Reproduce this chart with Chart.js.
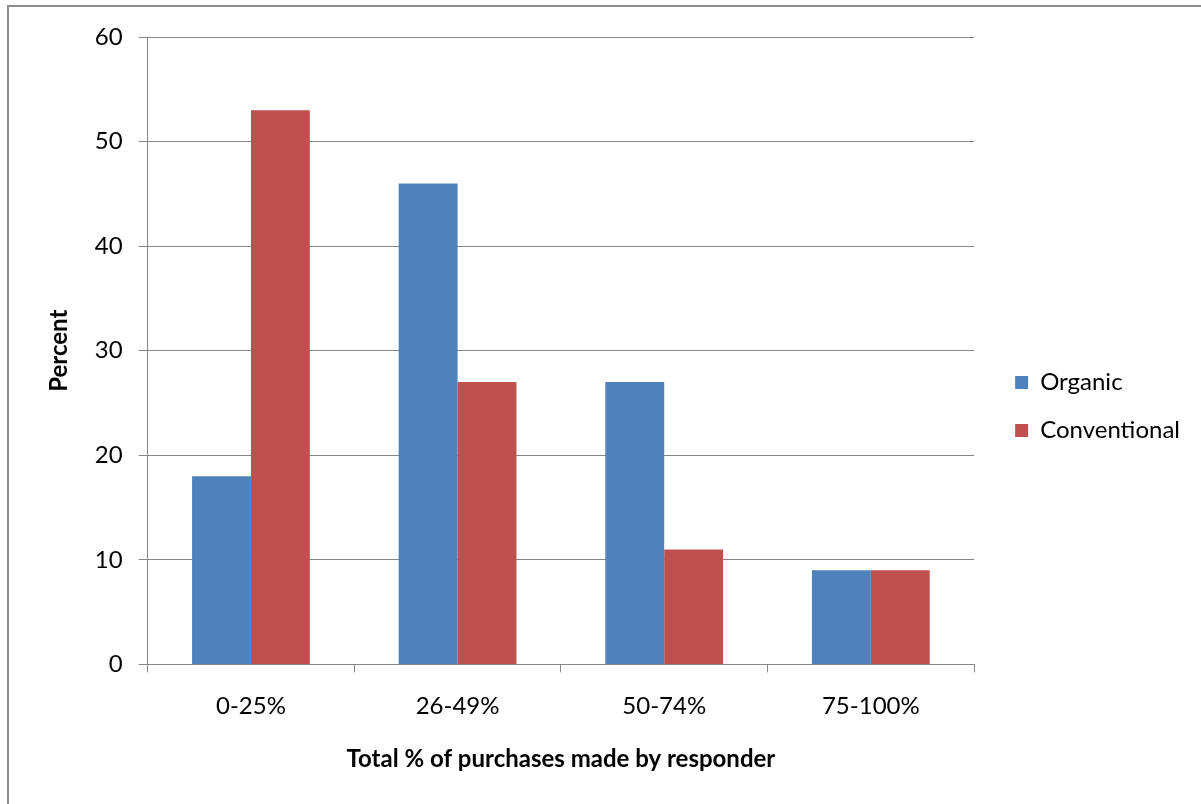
<!DOCTYPE html>
<html lang="en">
<head>
  <meta charset="UTF-8">
  <title>Organic vs Conventional purchases</title>
  <script src="https://cdn.jsdelivr.net/npm/chart.js"></script>
  <style>
    html, body { margin: 0; padding: 0; background: #fff; }
    #wrap { width: 1201px; height: 804px; position: relative; }
  </style>
</head>
<body>
  <div id="wrap"><canvas id="myChart" width="1201" height="804"></canvas></div>

  <script>
    // chart data
    const categories = ['0-25%', '26-49%', '50-74%', '75-100%'];
    const organic = [18, 46, 27, 9];
    const conventional = [53, 27, 11, 9];
    const yTicks = [0, 10, 20, 30, 40, 50, 60];

    const fontFamily = 'Lato, "Open Sans", sans-serif';
    const axisGray = '#868686';

    // gray frame round the chart area, like the spreadsheet export
    const frame = {
      id: 'frame',
      beforeDraw(chart) {
        const c = chart.ctx;
        c.save();
        c.fillStyle = '#fff';
        c.fillRect(0, 0, chart.width, chart.height);
        c.strokeStyle = '#8c8c8c';
        c.lineWidth = 2;
        c.strokeRect(8, 6, chart.width + 20, chart.height + 20);
        c.restore();
      }
    };

    // push the legend a little further from the plot than labels.padding gives
    const legendShift = {
      id: 'legendShift',
      afterLayout(chart) {
        const lg = chart.legend;
        lg.left += 17;
        lg.right += 17;
        lg.top += 1;
        lg.bottom += 1;
      }
    };

    const ctx = document.getElementById('myChart').getContext('2d');
    const myChart = new Chart(ctx, {
      type: 'bar',
      data: {
        labels: categories,
        datasets: [
          {
            label: 'Organic',
            data: organic,
            backgroundColor: '#4F81BD',
            categoryPercentage: 0.57,
            barPercentage: 1.0,
          },
          {
            label: 'Conventional',
            data: conventional,
            backgroundColor: '#C0504D',
            categoryPercentage: 0.57,
            barPercentage: 1.0,
          },
        ],
      },
      options: {
        responsive: false,
        animation: false,
        layout: {
          padding: { left: 45, top: 37, right: 28, bottom: 30 },
        },
        plugins: {
          tooltip: { enabled: false },
          legend: {
            position: 'right',
            labels: {
              boxWidth: 13,
              boxHeight: 13,
              padding: 24,
              color: '#000',
              font: { family: fontFamily, size: 24 },
            },
          },
        },
        scales: {
          x: {
            grid: {
              drawOnChartArea: false,
              drawTicks: true,
              tickLength: 8,
              color: axisGray,
            },
            border: { color: axisGray, width: 1 },
            ticks: {
              color: '#000',
              padding: 19,
              font: { family: fontFamily, size: 24 },
            },
            title: {
              display: true,
              text: 'Total % of purchases made by responder',
              color: '#000',
              padding: { top: 6, bottom: 0 },
              font: { family: fontFamily, size: 24, weight: 'bold' },
            },
          },
          y: {
            min: 0,
            max: 60,
            afterBuildTicks(axis) {
              axis.ticks = yTicks.map((v) => ({ value: v }));
            },
            grid: {
              color: axisGray,
              tickLength: 9,
            },
            border: { color: axisGray, width: 1 },
            ticks: {
              color: '#000',
              padding: 16,
              font: { family: fontFamily, size: 24 },
            },
            title: {
              display: true,
              text: 'Percent',
              color: '#000',
              padding: { top: 0, bottom: 5 },
              font: { family: fontFamily, size: 24, weight: 'bold' },
            },
          },
        },
      },
      plugins: [frame, legendShift],
    });
  </script>
</body>
</html>
